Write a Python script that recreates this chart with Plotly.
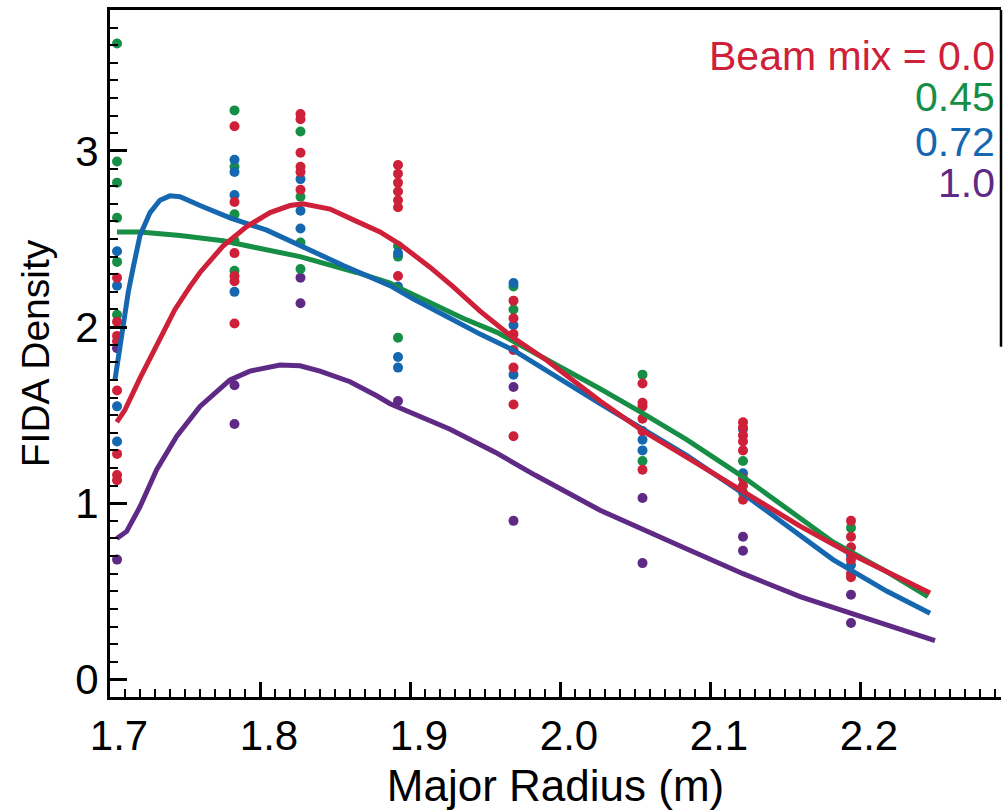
import plotly.graph_objects as go

# ---------------- data ----------------
series_names = ["0.0", "0.45", "0.72", "1.0"]
colors = {"0.0": "#CE2038", "0.45": "#178E46", "0.72": "#1567B0", "1.0": "#5F2A85"}

# Measured points (major radius positions of the chords)
pts_red_R = ([1.7047] * 8 + [1.783] * 6 + [1.827] * 6 + [1.892] * 7 + [1.969] * 7
             + [2.055] * 6 + [2.122] * 8 + [2.194] * 6)
pts_red_v = ([2.28, 2.03, 1.95, 1.92, 1.64, 1.28, 1.16, 1.13]
             + [3.14, 2.71, 2.42, 2.29, 2.26, 2.02]
             + [3.21, 3.18, 2.99, 2.91, 2.88, 2.78]
             + [2.92, 2.87, 2.82, 2.77, 2.72, 2.68, 2.29]
             + [2.15, 2.05, 1.96, 1.87, 1.77, 1.56, 1.38]
             + [1.68, 1.57, 1.55, 1.48, 1.41, 1.19]
             + [1.46, 1.43, 1.385, 1.35, 1.30, 1.14, 1.10, 1.02]
             + [0.90, 0.81, 0.75, 0.68, 0.60, 0.58])

pts_green_R = ([1.7047] * 6 + [1.783] * 5 + [1.827] * 4 + [1.892] * 3 + [1.969] * 2
               + [2.055] * 2 + [2.122] * 2 + [2.194] * 1)
pts_green_v = ([3.61, 2.94, 2.82, 2.62, 2.37, 2.07]
               + [3.23, 2.91, 2.64, 2.49, 2.32]
               + [3.11, 2.74, 2.48, 2.33]
               + [2.46, 2.40, 1.94]
               + [2.23, 2.10]
               + [1.73, 1.24]
               + [1.24, 1.06]
               + [0.86])

pts_blue_R = ([1.7047] * 4 + [1.783] * 4 + [1.827] * 3 + [1.892] * 4 + [1.969] * 3
              + [2.055] * 2 + [2.122] * 2 + [2.194] * 2)
pts_blue_v = ([2.43, 2.235, 1.55, 1.35]
              + [2.95, 2.88, 2.75, 2.20]
              + [2.84, 2.66, 2.56]
              + [2.42, 2.23, 1.83, 1.77]
              + [2.25, 2.01, 1.73]
              + [1.36, 1.30]
              + [1.42, 1.17]
              + [0.705, 0.65])

pts_purple_R = [1.7047, 1.7047, 1.783, 1.783, 1.827, 1.827, 1.892, 1.969, 1.969,
                2.055, 2.055, 2.122, 2.122, 2.194, 2.194]
pts_purple_v = [1.88, 0.68, 1.67, 1.45, 2.28, 2.135, 1.58, 1.66, 0.90,
                1.03, 0.66, 0.81, 0.73, 0.48, 0.32]

# Model curves
curve_red_R = [1.7045, 1.710, 1.720, 1.7333, 1.7433, 1.7533, 1.760, 1.7753, 1.7911, 1.8067,
               1.820, 1.8287, 1.8467, 1.8645, 1.880, 1.8933, 1.9133, 1.9287, 1.9467, 1.9687,
               1.9913, 2.0267, 2.0553, 2.0847, 2.122, 2.160, 2.1933, 2.220, 2.2467]
curve_red_v = [1.46, 1.53, 1.71, 1.93, 2.10, 2.23, 2.31, 2.46, 2.57, 2.65,
               2.69, 2.70, 2.67, 2.60, 2.54, 2.47, 2.34, 2.23, 2.09, 1.94,
               1.81, 1.58, 1.41, 1.26, 1.07, 0.87, 0.715, 0.60, 0.49]

curve_green_R = [1.7047, 1.720, 1.7467, 1.7753, 1.7978, 1.8267, 1.8645, 1.8867, 1.8933, 1.9133,
                 1.9353, 1.958, 1.9687, 1.9913, 2.0267, 2.0553, 2.0847, 2.122, 2.1513, 2.182,
                 2.218, 2.2453]
curve_green_v = [2.54, 2.54, 2.52, 2.49, 2.45, 2.40, 2.31, 2.25, 2.22, 2.14,
                 2.05, 1.97, 1.92, 1.82, 1.65, 1.51, 1.36, 1.15, 0.97, 0.78,
                 0.61, 0.47]

curve_blue_R = [1.7033, 1.7089, 1.7122, 1.7155, 1.720, 1.7267, 1.7333, 1.740, 1.7467, 1.760,
                1.780, 1.8045, 1.8267, 1.8555, 1.8867, 1.902, 1.9245, 1.9467, 1.9687, 1.980,
                2.0267, 2.0553, 2.0847, 2.122, 2.1513, 2.182, 2.218, 2.2467]
curve_blue_v = [1.70, 2.04, 2.20, 2.34, 2.52, 2.65, 2.72, 2.745, 2.74, 2.69,
                2.62, 2.55, 2.46, 2.35, 2.235, 2.16, 2.06, 1.96, 1.87, 1.81,
                1.565, 1.42, 1.27, 1.055, 0.87, 0.68, 0.50, 0.375]

curve_purple_R = [1.7045, 1.7111, 1.720, 1.7311, 1.7445, 1.760, 1.780, 1.7933, 1.8133, 1.8267,
                  1.840, 1.860, 1.8778, 1.8867, 1.9267, 1.9567, 1.9833, 2.0267, 2.082, 2.122,
                  2.160, 2.1933, 2.220, 2.250]
curve_purple_v = [0.80, 0.84, 0.98, 1.19, 1.38, 1.55, 1.70, 1.75, 1.785, 1.78,
                  1.75, 1.69, 1.61, 1.565, 1.42, 1.29, 1.16, 0.96, 0.75, 0.60,
                  0.47, 0.375, 0.30, 0.22]

x_tick_vals = [1.7, 1.8, 1.9, 2.0, 2.1, 2.2]
x_tick_text = ["1.7", "1.8", "1.9", "2.0", "2.1", "2.2"]
y_tick_vals = [0, 1, 2, 3]
y_tick_text = ["0", "1", "2", "3"]
legend_labels = ["Beam mix = 0.0", "0.45", "0.72", "1.0"]

# ---------------- figure ----------------
fig = go.Figure()

points = [("1.0", pts_purple_R, pts_purple_v), ("0.45", pts_green_R, pts_green_v),
          ("0.72", pts_blue_R, pts_blue_v), ("0.0", pts_red_R, pts_red_v)]
for name, xs, ys in points:
    fig.add_trace(go.Scatter(x=xs, y=ys, mode="markers",
                             marker=dict(color=colors[name], size=10, symbol="circle",
                                         line=dict(width=0)),
                             showlegend=False))

curves = [("1.0", curve_purple_R, curve_purple_v), ("0.45", curve_green_R, curve_green_v),
          ("0.72", curve_blue_R, curve_blue_v), ("0.0", curve_red_R, curve_red_v)]
for name, xs, ys in curves:
    fig.add_trace(go.Scatter(x=xs, y=ys, mode="lines",
                             line=dict(color=colors[name], width=5, shape="linear"),
                             showlegend=False))

font_family = "Liberation Sans, Arial, sans-serif"

fig.update_layout(
    width=1004, height=810,
    margin=dict(l=110, r=3, t=10, b=113),
    plot_bgcolor="white", paper_bgcolor="white",
    font=dict(family=font_family, color="black"),
    showlegend=False,
)

fig.update_xaxes(
    range=[1.7, 2.294], showgrid=False, zeroline=False,
    showline=True, linecolor="black", linewidth=3, mirror=True,
    ticks="inside", ticklen=15, tickwidth=2.5, tickcolor="black",
    tickvals=x_tick_vals, ticktext=x_tick_text, ticklabelshift=9,
    tickfont=dict(size=42, family=font_family),
    minor=dict(ticks="inside", ticklen=8, tickwidth=2, tickcolor="black", dtick=0.01, tick0=1.7),
    title=dict(text="Major Radius (m)", font=dict(size=44, family=font_family), standoff=14),
)
fig.update_yaxes(
    range=[-0.1, 3.8], showgrid=False, zeroline=False,
    showline=True, linecolor="black", linewidth=3,
    ticks="inside", ticklen=17, tickwidth=2.5, tickcolor="black",
    tickvals=y_tick_vals, ticktext=y_tick_text,
    tickfont=dict(size=42, family=font_family),
    minor=dict(ticks="inside", ticklen=8, tickwidth=2, tickcolor="black", dtick=0.1, tick0=0),
    title=dict(text="FIDA Density", font=dict(size=39, family=font_family), standoff=14),
)

# partial right frame line
fig.add_shape(type="line", xref="paper", yref="paper", x0=1, x1=1, y0=1, y1=0.51,
              line=dict(color="black", width=2.5))

legend_colors = [colors[n] for n in series_names]
legend_y = [0.933, 0.874, 0.808, 0.748]
for txt, col, yy in zip(legend_labels, legend_colors, legend_y):
    fig.add_annotation(text=txt, xref="paper", yref="paper", x=0.995, y=yy,
                       xanchor="right", yanchor="middle", showarrow=False,
                       font=dict(size=41, color=col, family=font_family))

fig.write_html("out.html")
